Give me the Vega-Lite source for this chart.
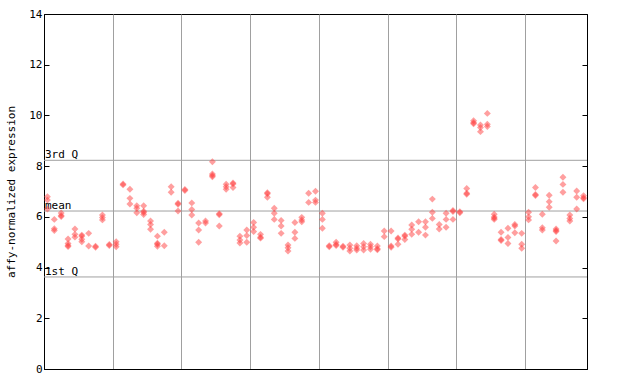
{
 "$schema": "https://vega.github.io/schema/vega-lite/v6.json",
 "autosize": "none",
 "width": 543,
 "height": 355,
 "padding": {"left": 44, "top": 14, "right": 53, "bottom": 15},
 "background": "#ffffff",
 "config": {"view": {"stroke": "#000000", "strokeWidth": 1}, "font": "DejaVu Sans Mono"},
 "datasets": {
  "refs": [{"label": "3rd Q", "v": 8.23}, {"label": "mean", "v": 6.23}, {"label": "1st Q", "v": 3.63}],
  "pts": [
   {"s":0,"v":6.79},{"s":0,"v":6.66},{"s":0,"v":6.31},
   {"s":1,"v":5.9},{"s":1,"v":5.53},{"s":1,"v":5.46},
   {"s":2,"v":6.15},{"s":2,"v":6.05},{"s":2,"v":6.01},
   {"s":3,"v":5.13},{"s":3,"v":4.95},{"s":3,"v":4.87},{"s":3,"v":4.83},
   {"s":4,"v":5.52},{"s":4,"v":5.31},{"s":4,"v":5.2},
   {"s":5,"v":5.28},{"s":5,"v":5.24},{"s":5,"v":5.12},{"s":5,"v":5.02},
   {"s":6,"v":5.35},{"s":6,"v":4.85},
   {"s":7,"v":4.84},{"s":7,"v":4.8},
   {"s":8,"v":6.07},{"s":8,"v":5.97},{"s":8,"v":5.88},
   {"s":9,"v":4.91},{"s":9,"v":4.87},
   {"s":10,"v":5.02},{"s":10,"v":4.92},{"s":10,"v":4.82},
   {"s":11,"v":7.3},{"s":11,"v":7.26},
   {"s":12,"v":7.09},{"s":12,"v":6.73},{"s":12,"v":6.51},
   {"s":13,"v":6.44},{"s":13,"v":6.34},{"s":13,"v":6.16},
   {"s":14,"v":6.44},{"s":14,"v":6.22},{"s":14,"v":6.17},{"s":14,"v":6.09},
   {"s":15,"v":5.84},{"s":15,"v":5.7},{"s":15,"v":5.51},
   {"s":16,"v":5.24},{"s":16,"v":4.96},{"s":16,"v":4.92},{"s":16,"v":4.84},
   {"s":17,"v":5.39},{"s":17,"v":4.86},
   {"s":18,"v":7.19},{"s":18,"v":6.97},
   {"s":19,"v":6.54},{"s":19,"v":6.5},{"s":19,"v":6.23},
   {"s":20,"v":7.08},{"s":20,"v":7.04},
   {"s":21,"v":6.55},{"s":21,"v":6.29},{"s":21,"v":6.07},
   {"s":22,"v":5.76},{"s":22,"v":5.48},{"s":22,"v":5.0},
   {"s":23,"v":5.84},{"s":23,"v":5.76},
   {"s":24,"v":8.17},{"s":24,"v":7.69},{"s":24,"v":7.63},{"s":24,"v":7.58},
   {"s":25,"v":6.12},{"s":25,"v":6.08},{"s":25,"v":5.64},
   {"s":26,"v":7.29},{"s":26,"v":7.19},{"s":26,"v":7.09},
   {"s":27,"v":7.34},{"s":27,"v":7.3},{"s":27,"v":7.16},
   {"s":28,"v":5.24},{"s":28,"v":5.09},{"s":28,"v":4.97},
   {"s":29,"v":5.48},{"s":29,"v":5.26},{"s":29,"v":5.0},
   {"s":30,"v":5.78},{"s":30,"v":5.59},{"s":30,"v":5.42},
   {"s":31,"v":5.31},{"s":31,"v":5.2},{"s":31,"v":5.16},
   {"s":32,"v":6.95},{"s":32,"v":6.91},{"s":32,"v":6.77},
   {"s":33,"v":6.34},{"s":33,"v":6.14},{"s":33,"v":5.9},
   {"s":34,"v":5.86},{"s":34,"v":5.64},{"s":34,"v":5.35},
   {"s":35,"v":4.89},{"s":35,"v":4.78},{"s":35,"v":4.65},
   {"s":36,"v":5.78},{"s":36,"v":5.39},{"s":36,"v":5.15},
   {"s":37,"v":5.98},{"s":37,"v":5.88},{"s":37,"v":5.81},
   {"s":38,"v":6.93},{"s":38,"v":6.57},
   {"s":39,"v":7.01},{"s":39,"v":6.66},{"s":39,"v":6.57},
   {"s":40,"v":6.14},{"s":40,"v":5.9},{"s":40,"v":5.55},
   {"s":41,"v":4.86},{"s":41,"v":4.82},
   {"s":42,"v":5.0},{"s":42,"v":4.91},{"s":42,"v":4.87},
   {"s":43,"v":4.84},{"s":43,"v":4.8},
   {"s":44,"v":4.89},{"s":44,"v":4.76},{"s":44,"v":4.65},
   {"s":45,"v":4.86},{"s":45,"v":4.76},{"s":45,"v":4.69},
   {"s":46,"v":4.95},{"s":46,"v":4.82},{"s":46,"v":4.69},
   {"s":47,"v":4.92},{"s":47,"v":4.82},{"s":47,"v":4.72},
   {"s":48,"v":4.85},{"s":48,"v":4.74},{"s":48,"v":4.7},
   {"s":49,"v":5.44},{"s":49,"v":5.22},
   {"s":50,"v":5.44},{"s":50,"v":4.85},{"s":50,"v":4.8},
   {"s":51,"v":5.17},{"s":51,"v":5.13},{"s":51,"v":4.92},
   {"s":52,"v":5.28},{"s":52,"v":5.24},{"s":52,"v":5.11},
   {"s":53,"v":5.68},{"s":53,"v":5.51},{"s":53,"v":5.31},
   {"s":54,"v":5.81},{"s":54,"v":5.39},
   {"s":55,"v":5.81},{"s":55,"v":5.59},{"s":55,"v":5.28},
   {"s":56,"v":6.7},{"s":56,"v":6.18},{"s":56,"v":5.94},
   {"s":57,"v":5.7},{"s":57,"v":5.52},
   {"s":58,"v":6.14},{"s":58,"v":5.9},{"s":58,"v":5.59},
   {"s":59,"v":6.25},{"s":59,"v":6.21},{"s":59,"v":5.9},
   {"s":60,"v":6.2},{"s":60,"v":6.16},
   {"s":61,"v":7.12},{"s":61,"v":6.93},{"s":61,"v":6.89},
   {"s":62,"v":9.79},{"s":62,"v":9.71},{"s":62,"v":9.67},
   {"s":63,"v":9.62},{"s":63,"v":9.52},{"s":63,"v":9.36},
   {"s":64,"v":10.08},{"s":64,"v":9.65},{"s":64,"v":9.56},
   {"s":65,"v":6.1},{"s":65,"v":5.99},{"s":65,"v":5.95},{"s":65,"v":5.9},
   {"s":66,"v":5.39},{"s":66,"v":5.11},{"s":66,"v":5.07},
   {"s":67,"v":5.55},{"s":67,"v":5.19},{"s":67,"v":4.95},
   {"s":68,"v":5.7},{"s":68,"v":5.64},{"s":68,"v":5.37},
   {"s":69,"v":5.35},{"s":69,"v":4.92},{"s":69,"v":4.76},
   {"s":70,"v":6.18},{"s":70,"v":6.0},{"s":70,"v":5.88},
   {"s":71,"v":7.16},{"s":71,"v":6.88},{"s":71,"v":6.84},
   {"s":72,"v":6.1},{"s":72,"v":5.57},{"s":72,"v":5.48},
   {"s":73,"v":6.85},{"s":73,"v":6.6},{"s":73,"v":6.38},
   {"s":74,"v":5.52},{"s":74,"v":5.46},{"s":74,"v":5.42},{"s":74,"v":5.05},
   {"s":75,"v":7.56},{"s":75,"v":7.28},{"s":75,"v":6.97},
   {"s":76,"v":6.07},{"s":76,"v":5.94},{"s":76,"v":5.84},
   {"s":77,"v":7.02},{"s":77,"v":6.77},{"s":77,"v":6.31},
   {"s":78,"v":6.83},{"s":78,"v":6.75},{"s":78,"v":6.71}
  ]
 },
 "resolve": {"axis": {"y": "independent"}},
 "layer": [
  {
   "data": {"name": "refs"},
   "mark": {"type": "rule", "color": "#a0a0a0", "strokeWidth": 1},
   "encoding": {
    "y": {"field": "v", "type": "quantitative", "scale": {"domain": [0, 14], "nice": false, "zero": false},
     "axis": {"orient": "right", "values": [0, 2, 4, 6, 8, 10, 12, 14], "labels": false, "title": null, "grid": false,
      "domain": true, "domainColor": "#000000", "ticks": true, "tickColor": "#000000", "tickSize": -5, "tickWidth": 1}}
   }
  },
  {
   "data": {"name": "refs"},
   "mark": {"type": "text", "align": "left", "baseline": "bottom", "dx": 1, "dy": 0, "fontSize": 11, "font": "DejaVu Sans Mono", "color": "#000000"},
   "encoding": {
    "x": {"datum": -0.5, "type": "quantitative"},
    "y": {"field": "v", "type": "quantitative", "axis": null},
    "text": {"field": "label"}
   }
  },
  {
   "data": {"name": "pts"},
   "mark": {"type": "point", "shape": "diamond", "filled": true, "size": 48, "color": "#ff4040", "opacity": 0.5, "strokeWidth": 0},
   "encoding": {
    "x": {"field": "s", "type": "quantitative", "scale": {"domain": [-0.5, 78.5], "nice": false, "zero": false},
     "axis": {"values": [9.5, 19.5, 29.5, 39.5, 49.5, 59.5, 69.5], "labels": false, "ticks": false, "title": null,
      "grid": true, "gridColor": "#a0a0a0", "gridWidth": 1, "gridOpacity": 1, "domainColor": "#000000"}},
    "y": {"field": "v", "type": "quantitative",
     "axis": {"orient": "left", "values": [0, 2, 4, 6, 8, 10, 12, 14], "grid": false, "domainColor": "#000000",
      "tickColor": "#000000", "tickSize": -5, "tickWidth": 1, "labelPadding": 7, "labelFont": "DejaVu Sans Mono",
      "labelFontSize": 11, "labelColor": "#000000", "title": "affy-normalized expression", "titleFont": "DejaVu Sans Mono",
      "titleFontSize": 11, "titleFontWeight": "normal", "titleColor": "#000000", "titleX": -33, "titleY": 177.5,
      "titleAngle": -90, "titleBaseline": "middle", "titleAlign": "center"}}
   }
  }
 ]
}
